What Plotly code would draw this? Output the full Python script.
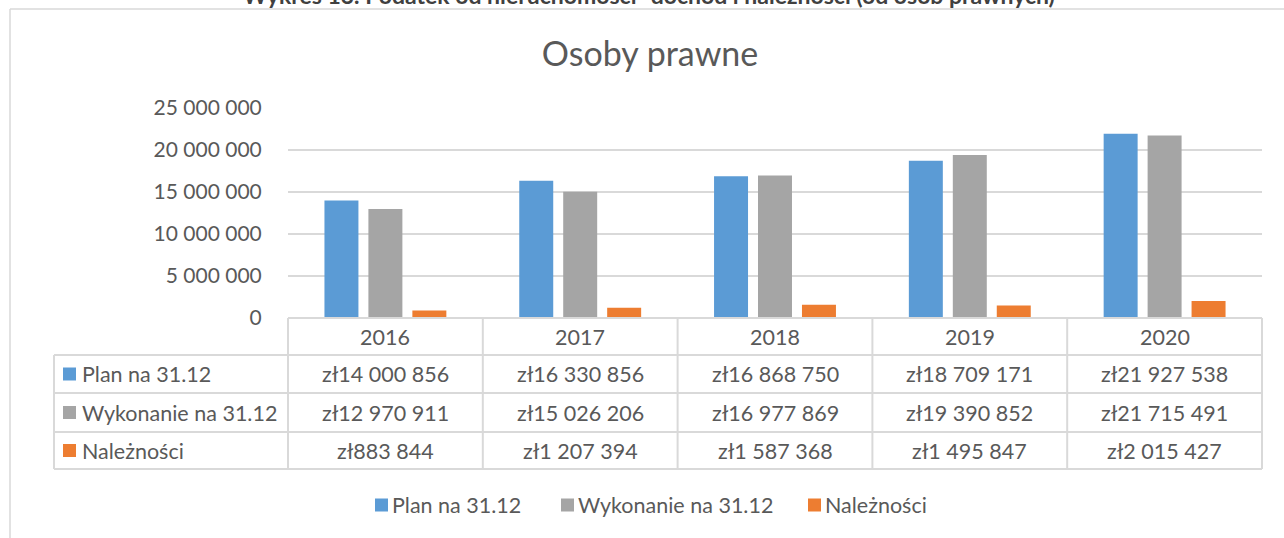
import plotly.graph_objects as go

years = ["2016", "2017", "2018", "2019", "2020"]
plan = [14000856, 16330856, 16868750, 18709171, 21927538]
wykonanie = [12970911, 15026206, 16977869, 19390852, 21715491]
naleznosci = [883844, 1207394, 1587368, 1495847, 2015427]
series_names = ["Plan na 31.12", "Wykonanie na 31.12", "Należności"]
colors = ["#5B9BD5", "#A5A5A5", "#ED7D31"]
y_ticks = [0, 5000000, 10000000, 15000000, 20000000, 25000000]

FONT = "Lato"
TXT = "#595959"
GRID = "#D9D9D9"

# layout geometry (pixels)
FW, FH = 1284, 538
L, R, T, B = 288, 1262, 108, 318
W, H = R - L, B - T

def px(x):
    return (x - L) / W

def py(y):
    return (B - y) / H

fig = go.Figure()
for name, vals, col in zip(series_names, [plan, wykonanie, naleznosci], colors):
    fig.add_trace(go.Bar(x=years, y=vals, name=name, marker=dict(color=col, line=dict(width=0)), showlegend=False))

def fmt(v):
    return "zł" + f"{v:,}".replace(",", " ")

shapes = []
ann = []
line = dict(color=GRID, width=2)
frame = dict(color=GRID, width=1.5)

# outer chart frame (top and left edges visible)
shapes.append(dict(type="line", xref="paper", yref="paper", x0=px(10), x1=px(1300), y0=py(9), y1=py(9), line=frame, layer="below"))
shapes.append(dict(type="line", xref="paper", yref="paper", x0=px(10), x1=px(10), y0=py(9), y1=py(560), line=frame, layer="below"))

# table geometry
row_edges = [318, 355, 393, 432, 469]
n = len(years)
col_edges = [L + i * W / n for i in range(n + 1)]
left_x = 54

for i, yv in enumerate(row_edges):
    x0 = L if i == 0 else left_x
    shapes.append(dict(type="line", xref="paper", yref="paper", x0=px(x0), x1=px(R), y0=py(yv), y1=py(yv), line=line))
for xv in col_edges:
    shapes.append(dict(type="line", xref="paper", yref="paper", x0=px(xv), x1=px(xv), y0=py(row_edges[0]), y1=py(row_edges[-1]), line=line))
shapes.append(dict(type="line", xref="paper", yref="paper", x0=px(left_x), x1=px(left_x), y0=py(row_edges[1]), y1=py(row_edges[-1]), line=line))

cell_font = dict(family=FONT, size=21.5, color=TXT)

for i, yr in enumerate(years):
    cx = (col_edges[i] + col_edges[i + 1]) / 2
    cy = (row_edges[0] + row_edges[1]) / 2
    ann.append(dict(x=px(cx), y=py(cy), xref="paper", yref="paper", text=yr, showarrow=False,
                    font=cell_font, xanchor="center", yanchor="middle"))

for r, (name, vals, col) in enumerate(zip(series_names, [plan, wykonanie, naleznosci], colors)):
    y0, y1 = row_edges[r + 1], row_edges[r + 2]
    cy = (y0 + y1) / 2
    shapes.append(dict(type="rect", xref="paper", yref="paper", x0=px(63), x1=px(76), y0=py(cy - 6.5), y1=py(cy + 6.5),
                       fillcolor=col, line=dict(width=0)))
    ann.append(dict(x=px(80), y=py(cy), xref="paper", yref="paper", text=name, showarrow=False,
                    font=cell_font, xanchor="left", yanchor="middle"))
    for i, v in enumerate(vals):
        cx = (col_edges[i] + col_edges[i + 1]) / 2
        ann.append(dict(x=px(cx), y=py(cy), xref="paper", yref="paper", text=fmt(v), showarrow=False,
                        font=cell_font, xanchor="center", yanchor="middle"))

# bottom legend (drawn manually)
legend_x = [375, 561, 808]
leg_y = 505
for name, col, lx in zip(series_names, colors, legend_x):
    shapes.append(dict(type="rect", xref="paper", yref="paper", x0=px(lx), x1=px(lx + 13), y0=py(leg_y - 6.5), y1=py(leg_y + 6.5),
                       fillcolor=col, line=dict(width=0)))
    ann.append(dict(x=px(lx + 15), y=py(leg_y), xref="paper", yref="paper", text=name, showarrow=False,
                    font=cell_font, xanchor="left", yanchor="middle"))

# clipped document caption at top
ann.append(dict(x=px(649), y=py(11), xref="paper", yref="paper",
                text="<b>Wykres 13. Podatek od nieruchomości- dochód i należności (od osób prawnych)</b>",
                showarrow=False, font=dict(family=FONT, size=23, color="#404040"), xanchor="center", yanchor="bottom"))

fig.update_layout(
    width=FW, height=FH,
    margin=dict(l=L, r=FW - R, t=T, b=FH - B, autoexpand=False),
    paper_bgcolor="white", plot_bgcolor="white",
    separators=", ",
    title=dict(text="Osoby prawne", x=650 / FW, xref="container", xanchor="center",
               y=1 - 54 / FH, yref="container", yanchor="middle",
               font=dict(family=FONT, size=34, color=TXT)),
    barmode="group", bargap=0.323, bargroupgap=0.227,
    showlegend=False,
    hovermode=False,
    xaxis=dict(showticklabels=False, showgrid=False, showline=False, zeroline=False, ticks="", automargin=False),
    yaxis=dict(range=[0, 25000000], tickvals=y_ticks, tickformat=",d", showgrid=True, gridcolor=GRID, gridwidth=2,
               zeroline=False, showline=False, ticks="outside", ticklen=21, tickcolor="rgba(0,0,0,0)",
               tickfont=dict(family=FONT, size=21, color=TXT), automargin=False),
    shapes=shapes, annotations=ann,
    font=dict(family=FONT, color=TXT),
)

fig.write_html("out.html", config={"displayModeBar": False},
               post_script="document.body.style.margin='0';document.body.style.overflow='hidden';")
